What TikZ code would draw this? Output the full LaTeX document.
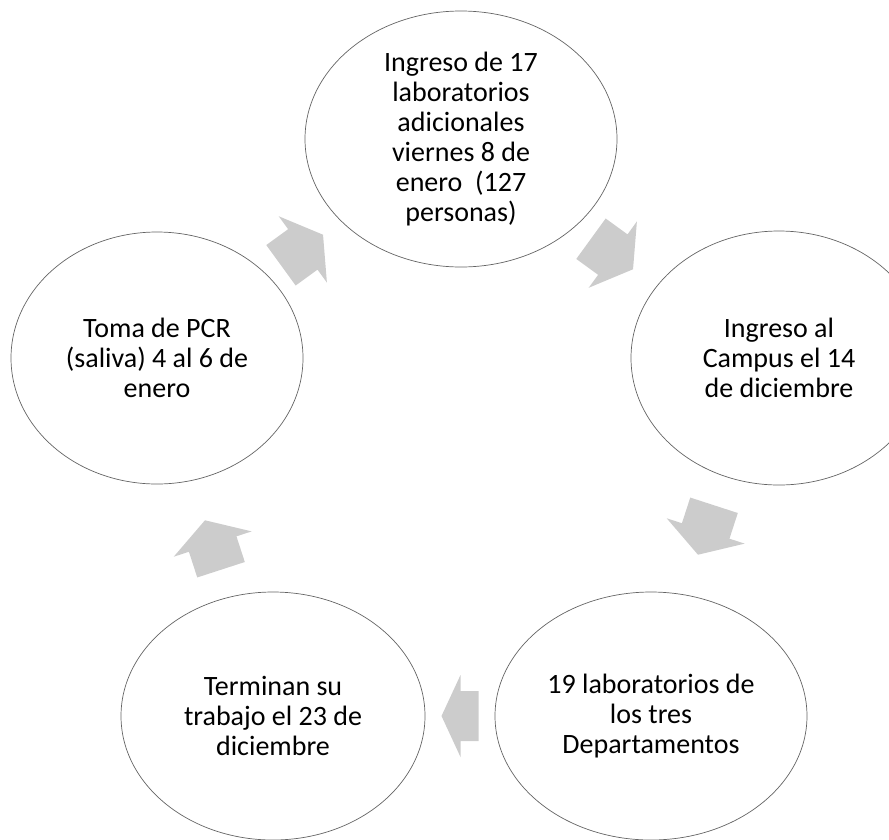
\documentclass[tikz,border=0pt]{standalone}
\usepackage{fontspec}
\setmainfont{Carlito}
\usetikzlibrary{shapes.geometric}
\definecolor{circlegray}{RGB}{100,100,100}
\definecolor{arrowgray}{RGB}{204,204,204}
\newcommand\cycarrow[5]{%
  \begin{scope}[shift={(#1,#2)},rotate=#3]
    \fill[cycarrowstyle] ({-#4/2},-25) -- ({-#4/2+#5},-25) -- ({-#4/2+#5},-41) -- ({#4/2},0)
      -- ({-#4/2+#5},41) -- ({-#4/2+#5},25) -- ({-#4/2},25) -- cycle;
  \end{scope}}
\begin{document}
\begin{tikzpicture}[x=1pt,y=-1pt,
  stage/.style={ellipse, draw=circlegray, line width=0.7pt, fill=white, inner sep=0pt,
    align=center, font=\fontsize{28}{30}\selectfont},
  cycarrowstyle/.style={fill=arrowgray}]
\useasboundingbox (0,0) rectangle (889,839);
\clip (0,0) rectangle (889,839);

\node[stage, minimum width=312pt, minimum height=256pt] (top) at (461,139)
  {Ingreso de 17\\laboratorios\\adicionales\\viernes 8 de\\enero\ \ (127\\personas)};
\node[stage, minimum width=296pt, minimum height=254pt] (right) at (779,358)
  {Ingreso al\\Campus el 14\\de diciembre};
\node[stage, minimum width=312pt, minimum height=248pt] (bright) at (651,716)
  {19 laboratorios de\\los tres\\Departamentos};
\node[stage, minimum width=304pt, minimum height=248pt] (bleft) at (273,716)
  {Terminan su\\trabajo el 23 de\\diciembre};
\node[stage, minimum width=292pt, minimum height=252pt] (left) at (157,358)
  {Toma de PCR\\(saliva) 4 al 6 de\\enero};

% block arrows of the cycle
\cycarrow{302}{250}{36}{52}{27}
\cycarrow{612}{254}{-36}{52}{27}
\cycarrow{706}{530}{252}{52}{27}
\cycarrow{460}{716}{180}{37}{18}
\cycarrow{213}{545}{108}{52}{27}
\end{tikzpicture}
\end{document}
